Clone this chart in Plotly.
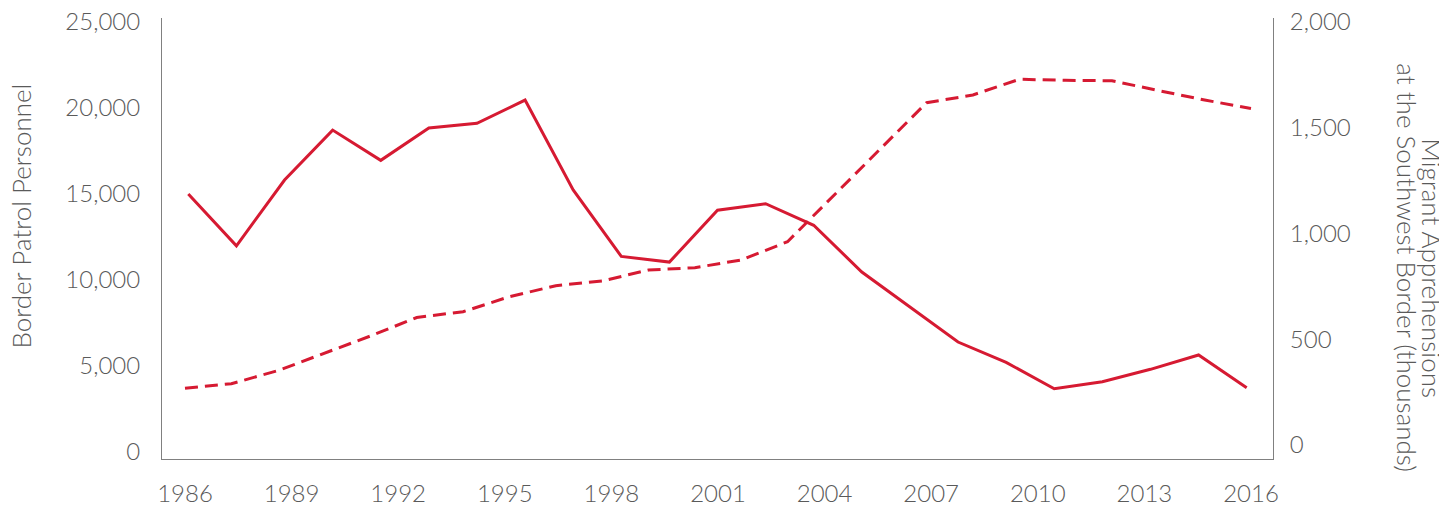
import plotly.graph_objects as go

# Tick labels on the horizontal axis
year_labels = [1986, 1989, 1992, 1995, 1998, 2001, 2004, 2007, 2010, 2013, 2016]

# Border Patrol Personnel (left axis, dashed) - 24 observations
personnel = [3703, 3971, 4727, 5756, 6744, 7820, 8157, 9029, 9669, 9942,
             10581, 10715, 11163, 12227, 14919, 17616, 20308, 20756, 21669,
             21610, 21587, 21017, 20465, 19971]

# Migrant apprehensions at the Southwest border, thousands (right axis, solid) - 23 observations
apprehensions = [1187, 942, 1253, 1489, 1346, 1499, 1521, 1631, 1206, 892,
                 865, 1110, 1141, 1039, 818, 652, 487, 391, 266, 299, 358,
                 426, 271]

RED = "rgb(214,26,50)"
AXIS = "#808080"
TXT = "#5a5a5a"
FONT = "Lato"

idx_p = list(range(len(personnel)))
idx_a = list(range(len(apprehensions)))
n_lab = len(year_labels)
tickpos = [i * (len(personnel) - 1) / (n_lab - 1) for i in range(n_lab)]

fig = go.Figure()
fig.add_trace(go.Scatter(
    x=idx_p, y=personnel, mode="lines", xaxis="x", yaxis="y",
    line=dict(color=RED, width=3, dash="13px,7px"),
    name="Border Patrol Personnel", showlegend=False))
fig.add_trace(go.Scatter(
    x=idx_a, y=apprehensions, mode="lines", xaxis="x2", yaxis="y2",
    line=dict(color=RED, width=3),
    name="Migrant Apprehensions", showlegend=False))

tickfont = dict(family=FONT, size=24, color=TXT, weight=300)

# page body has an 8px default margin; margins below compensate for it
fig.update_layout(
    width=1447, height=506,
    margin=dict(l=154, r=182, t=10, b=55, autoexpand=False),
    plot_bgcolor="white", paper_bgcolor="white",
    font=dict(family=FONT, color=TXT, weight=300),
    xaxis=dict(range=[-0.496, 23.475], tickvals=tickpos,
               ticktext=[str(y) for y in year_labels],
               showgrid=False, zeroline=False, showline=True,
               linecolor=AXIS, linewidth=1, ticks="", automargin=False,
               tickfont=tickfont, ticklabelstandoff=13,
               ticklabeloverflow="allow"),
    xaxis2=dict(range=[-0.547, 22.547], overlaying="x", visible=False),
    yaxis=dict(range=[-407, 25233], tickvals=[0, 5000, 10000, 15000, 20000, 25000],
               tickformat=",", showgrid=False, zeroline=False, showline=True,
               linecolor=AXIS, linewidth=1, ticks="", tickfont=tickfont,
               automargin=False, ticklabelstandoff=16,
               ticklabeloverflow="allow"),
    yaxis2=dict(range=[-66, 2019], tickvals=[0, 500, 1000, 1500, 2000],
                tickformat=",", overlaying="y", side="right",
                showgrid=False, zeroline=False, showline=True,
                linecolor=AXIS, linewidth=1, ticks="", tickfont=tickfont,
                automargin=False, ticklabelstandoff=11,
                ticklabeloverflow="allow"),
)

title_font = dict(family=FONT, size=26, color=TXT, weight=300)
fig.add_annotation(text="Border Patrol Personnel", xref="paper", yref="paper",
                   x=(20 - 162) / 1111, y=(459 - 216.5) / 441, textangle=-90,
                   showarrow=False, xanchor="center", yanchor="middle", font=title_font)
fig.add_annotation(text="Migrant Apprehensions", xref="paper", yref="paper",
                   x=(1431.7 - 162) / 1111, y=(459 - 268) / 441, textangle=90,
                   showarrow=False, xanchor="center", yanchor="middle", font=title_font)
fig.add_annotation(text="at the Southwest Border (thousands)", xref="paper", yref="paper",
                   x=(1406.7 - 162) / 1111, y=(459 - 268) / 441, textangle=90,
                   showarrow=False, xanchor="center", yanchor="middle", font=title_font)

fig.write_html("out.html")
